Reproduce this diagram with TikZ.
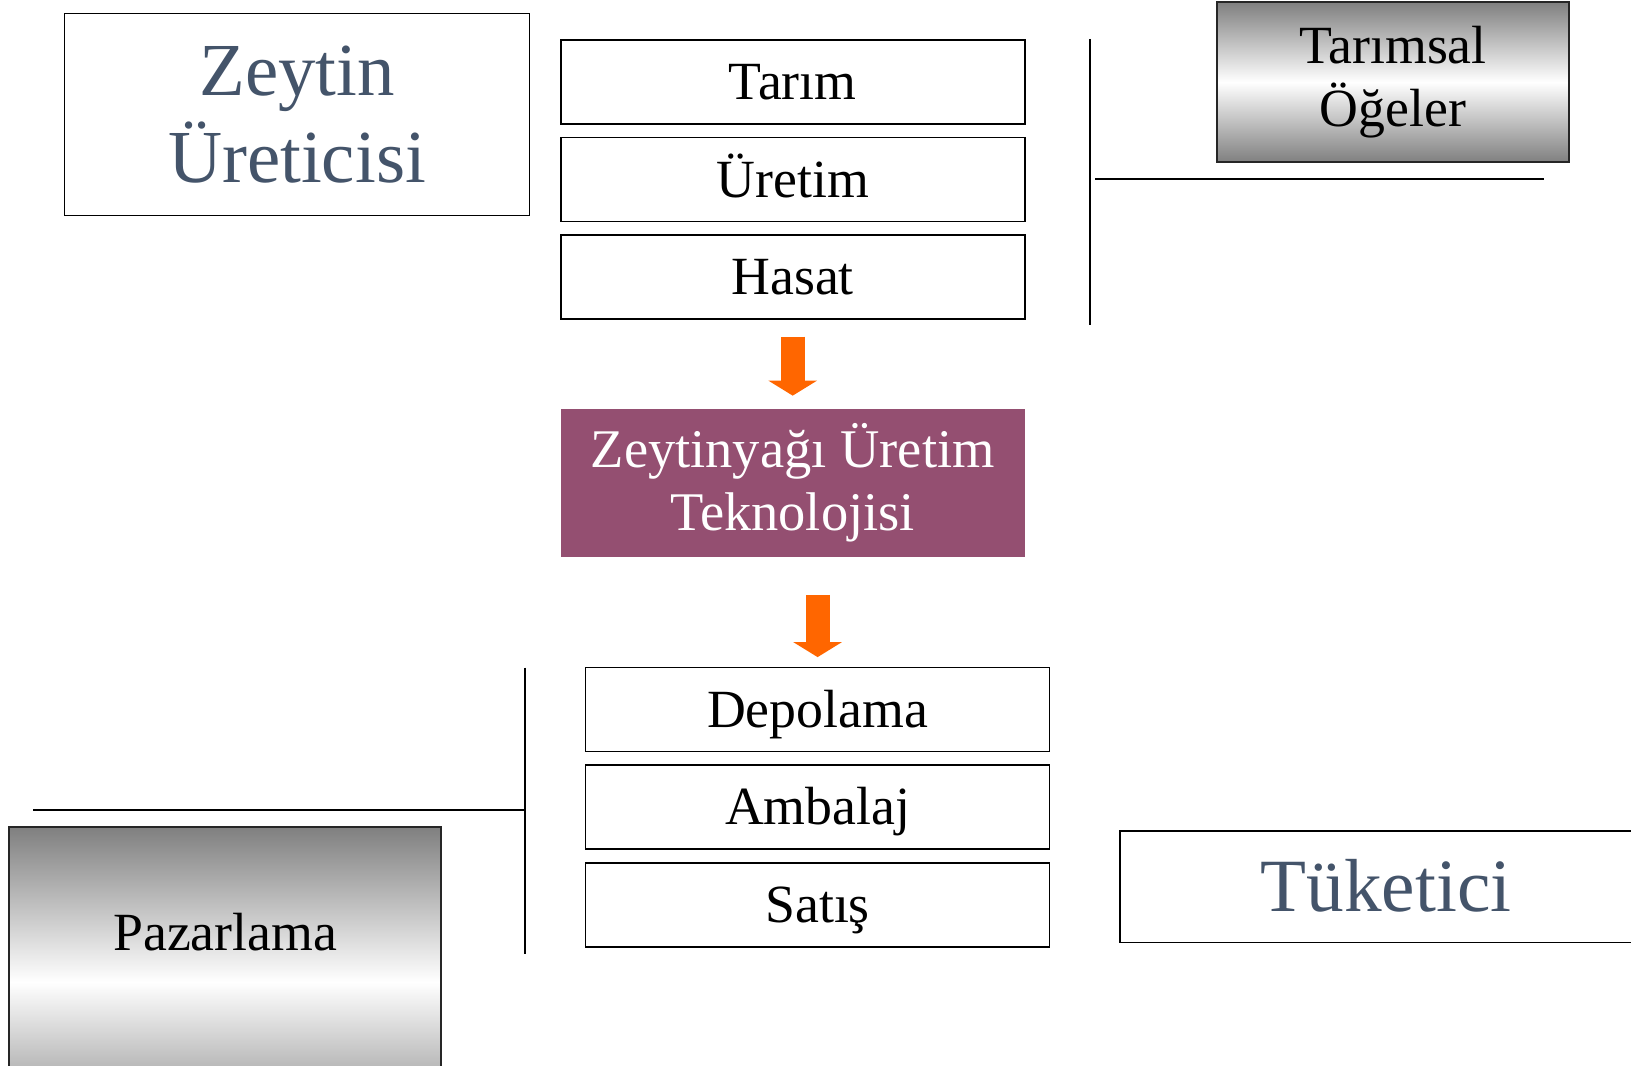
\documentclass[tikz,border=0pt]{standalone}
\usepackage{fontspec}
\setmainfont{Liberation Serif}
\usetikzlibrary{positioning,arrows.meta,calc}

\definecolor{slate}{HTML}{44546A}
\definecolor{plum}{HTML}{944F71}
\definecolor{flow}{HTML}{FF6600}

\begin{document}
\begin{tikzpicture}[
  stage/.style={draw=black, line width=0.5pt, minimum width=4.64cm, minimum height=0.84cm, inner sep=0pt, text height=10.1pt, text depth=0pt, font=\fontsize{15.3}{18}\selectfont},
  actor/.style={draw=black, line width=0.5pt, inner sep=0pt, text=slate, align=center},
  shadebox/.style={draw=black!85, line width=0.5pt, inner sep=0pt, top color=black!50, bottom color=black!50, middle color=white, align=center},
  flowarr/.style={draw=flow, line width=0.24cm, -{Triangle[width=0.48cm, length=0.15cm]}},
  bar/.style={line width=0.6pt}
]
\useasboundingbox (0,0) rectangle (16.31,-10.66);
\clip (0,0) rectangle (16.31,-10.66);

%% ---------- Producer side (top) ----------
\node[actor, minimum width=4.65cm, minimum height=2.02cm, font=\fontsize{21.3}{24.7}\selectfont] (ureticisi) at (2.97,-1.144) {Zeytin\\Üreticisi};

\node[stage] (tarim)  at (7.927,-0.817) {Tarım};
\node[stage, below=0.12cm of tarim]  (uretim) {Üretim};
\node[stage, below=0.12cm of uretim] (hasat)  {Hasat};

\node[shadebox, minimum width=3.52cm, minimum height=1.6cm, font=\fontsize{15.3}{17.8}\selectfont] (ogeler) at (13.93,-0.822) {Tarımsal\\Öğeler};

\draw[bar] ($(tarim.north east)+(0.64,0)$) -- ++(0,-2.86);
\draw[bar] ($(ogeler.south west)+(-1.21,-0.16)$) -- ++(4.49,0);

%% ---------- Technology ----------
\node[fill=plum, text=white, align=center, inner sep=0pt, minimum width=4.64cm, minimum height=1.477cm, font=\fontsize{15.5}{18.1}\selectfont] (tekno) at (7.927,-4.827) {Zeytinyağı Üretim\\Teknolojisi};

\draw[flowarr] ($(hasat.south)+(0,-0.166)$) -- ($(tekno.north)+(0,0.125)$);

%% ---------- Market side (bottom) ----------
\node[stage] (depo) at (8.176,-7.094) {Depolama};
\node[stage, below=0.12cm of depo]    (ambalaj) {Ambalaj};
\node[stage, below=0.12cm of ambalaj] (satis)   {Satış};

\draw[flowarr] ($(tekno.south -| depo.north)+(0,-0.375)$) -- ($(depo.north)+(0,0.094)$);

\node[shadebox, minimum width=4.32cm, minimum height=3.1cm] (pazarlama) at (2.252,-9.82) {};
\node[font=\fontsize{15.3}{18}\selectfont, text height=10.1pt, text depth=0pt, inner sep=0pt] (pazlabel) at ($(pazarlama.north)+(0,-1.07)$) {Pazarlama};

\draw[bar] ($(depo.north west)+(-0.593,-0.01)$) -- ++(0,-2.86);
\draw[bar] ($(depo.north west)+(-0.593,-1.435)$) -- ++(-4.92,0);

\node[actor, minimum width=5.32cm, minimum height=1.114cm, text height=14.2pt, text depth=0pt, font=\fontsize{21.4}{25}\selectfont] (tuketici) at (13.86,-8.867) {Tüketici};

\end{tikzpicture}
\end{document}
